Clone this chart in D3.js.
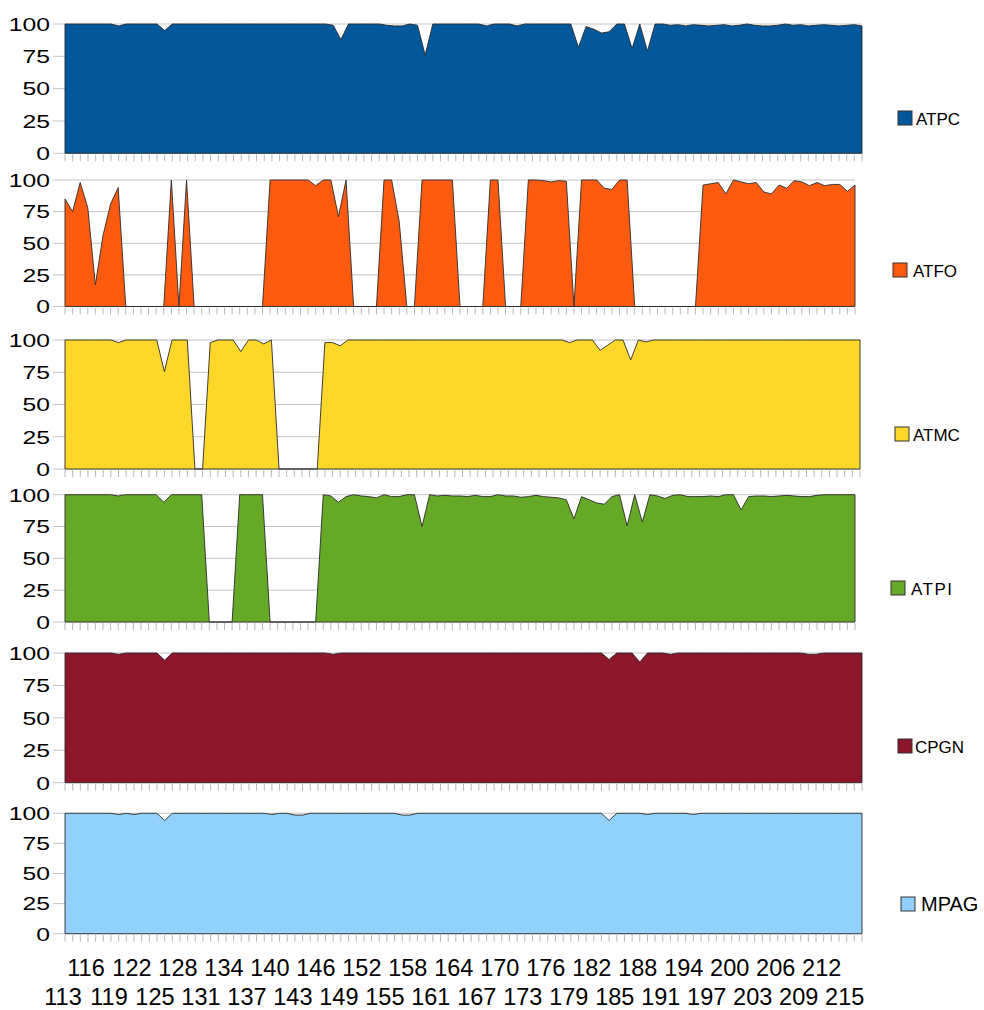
<!DOCTYPE html>
<html>
<head>
<meta charset="utf-8">
<script src="https://cdn.jsdelivr.net/npm/d3@7"></script>
<style>
  body { margin: 0; background: #ffffff; }
  svg { display: block; font-family: "Liberation Sans", Arial, sans-serif; }
</style>
</head>
<body>
<svg id="chart" width="984" height="1010"></svg>
<script>
// Categories along the x axis
const categories = [
  113,114,115,116,117,118,119,120,121,122,123,124,125,126,127,128,129,130,131,132,
  133,134,135,136,137,138,139,140,141,142,143,144,145,146,147,148,149,150,151,152,
  153,154,155,156,157,158,159,160,161,162,163,164,165,166,167,168,169,170,171,172,
  173,174,175,176,177,178,179,180,181,182,183,184,185,186,187,188,189,190,191,192,
  193,194,195,196,197,198,199,200,201,202,203,204,205,206,207,208,209,210,211,212,
  213,214,215,216,217
];

// Labelled categories (alternating between two rows)
const tickLabels = [113,116,119,122,125,128,131,134,137,140,143,146,149,152,155,158,161,
  164,167,170,173,176,179,182,185,188,191,194,197,200,203,206,209,212,215];

const yTicks = [0, 25, 50, 75, 100];

const seriesNames = ["ATPC", "ATFO", "ATMC", "ATPI", "CPGN", "MPAG"];

const ATPC = [
  100,100,100,100,100,100,100,98.5,100,100,
  100,100,100,95,100,100,100,100,100,100,
  100,100,100,100,100,100,100,100,100,100,
  100,100,100,100,100,99,88,100,100,100,
  100,100,99,98.5,98.5,100,99,76,100,100,
  100,100,100,100,100,98.5,100,100,100,98.5,
  100,100,100,100,100,100,100,82,98,96,
  93,94,100,100,81,100,79,100,100,99,
  99.5,98.5,99.5,99,98.5,99,99.5,98.5,99,100,
  99,98.5,98.5,99,100,99,99.5,98.5,99,99.5,
  99,98.5,99,99.5,98.5
];

const ATFO = [
  85,75,98,78,17,56,81,94,0,0,
  0,0,0,0,100,0,100,0,0,0,
  0,0,0,0,0,0,0,100,100,100,
  100,100,100,95.5,100,100,71,100,0,0,
  0,0,100,100,67,0,0,100,100,100,
  100,100,0,0,0,0,100,100,0,0,
  0,100,100,99.5,98.5,99.5,99,0,100,100,
  100,93.5,92.5,100,100,0,0,0,0,0,
  0,0,0,0,96,97,98,89,100,98.5,
  97,98,90.5,89,96,93.5,99.5,98.5,95.5,98,
  95.5,96.5,96.5,91,96
];

const ATMC = [
  100,100,100,100,100,100,100,98,100,100,
  100,100,100,75.5,100,100,100,0,0,98,
  100,100,100,91,100,100,97,100,0,0,
  0,0,0,0,98,98,95.5,100,100,100,
  100,100,100,100,100,100,100,100,100,100,
  100,100,100,100,100,100,100,100,100,100,
  100,100,100,100,100,100,98,100,100,100,
  92,96,100,100,84.5,100,98.5,100,100,100,
  100,100,100,100,100,100,100,100,100,100,
  100,100,100,100,100,100,100,100,100,100,
  100,100,100,100,100
];

const ATPI = [
  100,100,100,100,100,100,100,99,100,100,
  100,100,100,94,100,100,100,100,100,0,
  0,0,0,100,100,100,100,0,0,0,
  0,0,0,0,100,99,94,98.5,100,99,
  98.5,97.5,100,98.5,98.5,100,100,75,100,99,
  99.5,99,99,98.5,99.5,98.5,98.5,100,99,99,
  98,98.5,99.5,98.5,98,97.5,96,81,98.5,96,
  93.5,92.5,98.5,100,75.5,100,78.5,100,99,97,
  99.5,100,98.5,98.5,98.5,99,98.5,100,100,88,
  98.5,99,99,98.5,99,99.5,99,98.5,98.5,99.5,
  100,100,100,100,100
];

const CPGN = [
  100,100,100,100,100,100,100,99,100,100,
  100,100,100,94.5,100,100,100,100,100,100,
  100,100,100,100,100,100,100,100,100,100,
  100,100,100,100,100,99,100,100,100,100,
  100,100,100,100,100,100,100,100,100,100,
  100,100,100,100,100,100,100,100,100,100,
  100,100,100,100,100,100,100,100,100,100,
  100,95,100,100,100,93,100,100,100,99,
  100,100,100,100,100,100,100,100,100,100,
  100,100,100,100,100,100,100,99,99,100,
  100,100,100,100,100
];

const MPAG = [
  100,100,100,100,100,100,100,99,100,99,
  100,100,100,94,100,100,100,100,100,100,
  100,100,100,100,100,100,100,99,100,100,
  98.5,98.5,100,100,100,100,100,100,100,100,
  100,100,100,100,98.5,98.5,100,100,100,100,
  100,100,100,100,100,100,100,100,100,100,
  100,100,100,100,100,100,100,100,100,100,
  100,94,100,100,100,100,99,100,100,100,
  100,100,99,100,100,100,100,100,100,100,
  100,100,100,100,100,100,100,100,100,100,
  100,100,100,100,100
];

const seriesValues = [ATPC, ATFO, ATMC, ATPI, CPGN, MPAG];
const seriesColors = ["#02589b", "#ff5b10", "#fdd82a", "#66a927", "#8d152c", "#92d1fc"];

// Frame of each stacked panel (plot box and legend entry)
const panelLayout = [
  { top: 24,    bottom: 153.3, right: 862, legX: 898, legY: 111, textX: 916, fs: 17, ls: 0 },
  { top: 180,   bottom: 306.5, right: 855, legX: 893, legY: 263, textX: 913, fs: 17, ls: 0 },
  { top: 340,   bottom: 469,   right: 860, legX: 895, legY: 427, textX: 913, fs: 17, ls: 0 },
  { top: 494.7, bottom: 622,   right: 855, legX: 891, legY: 581, textX: 911, fs: 17, ls: 1.5 },
  { top: 653,   bottom: 782.7, right: 862, legX: 898, legY: 739, textX: 915, fs: 17, ls: 0 },
  { top: 813.3, bottom: 933.7, right: 862, legX: 901, legY: 897, textX: 921, fs: 20, ls: 0 }
];
const plotLeft = 65;

const svg = d3.select("#chart");

seriesNames.forEach((name, p) => {
  const L = panelLayout[p];
  const values = seriesValues[p];
  const x = d3.scaleLinear()
    .domain([categories[0], categories[categories.length - 1]])
    .range([plotLeft, L.right]);
  const y = d3.scaleLinear().domain([0, 100]).range([L.bottom, L.top]);

  const g = svg.append("g");

  // horizontal grid lines, extending a little left of the plot
  g.selectAll("line.grid").data(yTicks).join("line")
    .attr("x1", plotLeft - 12).attr("x2", L.right)
    .attr("y1", d => y(d)).attr("y2", d => y(d))
    .attr("stroke", "#c4c4c4").attr("stroke-width", 1);

  // y tick labels (slightly widened glyphs)
  g.selectAll("text.ylab").data(yTicks).join("text")
    .attr("transform", d => `translate(50,${y(d) + 6.8}) scale(1.3,1)`)
    .attr("text-anchor", "end")
    .attr("font-size", 19)
    .attr("fill", "#000")
    .text(d => d);

  // small category ticks under the plot
  g.selectAll("line.xt").data(categories).join("line")
    .attr("x1", d => x(d)).attr("x2", d => x(d))
    .attr("y1", L.bottom + 1).attr("y2", L.bottom + 8)
    .attr("stroke", "#b8b8b8").attr("stroke-width", 1);

  // area
  const area = d3.area()
    .x((d, i) => x(categories[i]))
    .y0(y(0))
    .y1(d => y(d));
  g.append("path")
    .datum(values)
    .attr("d", area)
    .attr("fill", seriesColors[p])
    .attr("stroke", "#2a2a2a")
    .attr("stroke-width", 0.9)
    .attr("stroke-linejoin", "miter");

  // legend entry
  g.append("rect")
    .attr("x", L.legX).attr("y", L.legY)
    .attr("width", 14).attr("height", 14)
    .attr("fill", seriesColors[p])
    .attr("stroke", "#333").attr("stroke-width", 1);
  g.append("text")
    .attr("x", L.textX).attr("y", L.legY + 14)
    .attr("font-size", L.fs)
    .attr("letter-spacing", L.ls)
    .attr("fill", "#000")
    .text(name);
});

// category labels beneath the last panel, staggered over two rows
const lastL = panelLayout[panelLayout.length - 1];
const xb = d3.scaleLinear()
  .domain([categories[0], categories[categories.length - 1]])
  .range([plotLeft, lastL.right]);
svg.append("g").selectAll("text").data(tickLabels).join("text")
  .attr("x", d => xb(d) - 2)
  .attr("y", (d, i) => i % 2 === 0 ? 1004.5 : 975.5)
  .attr("text-anchor", "middle")
  .attr("font-size", 23.5)
  .attr("fill", "#000")
  .text(d => d);
</script>
</body>
</html>
